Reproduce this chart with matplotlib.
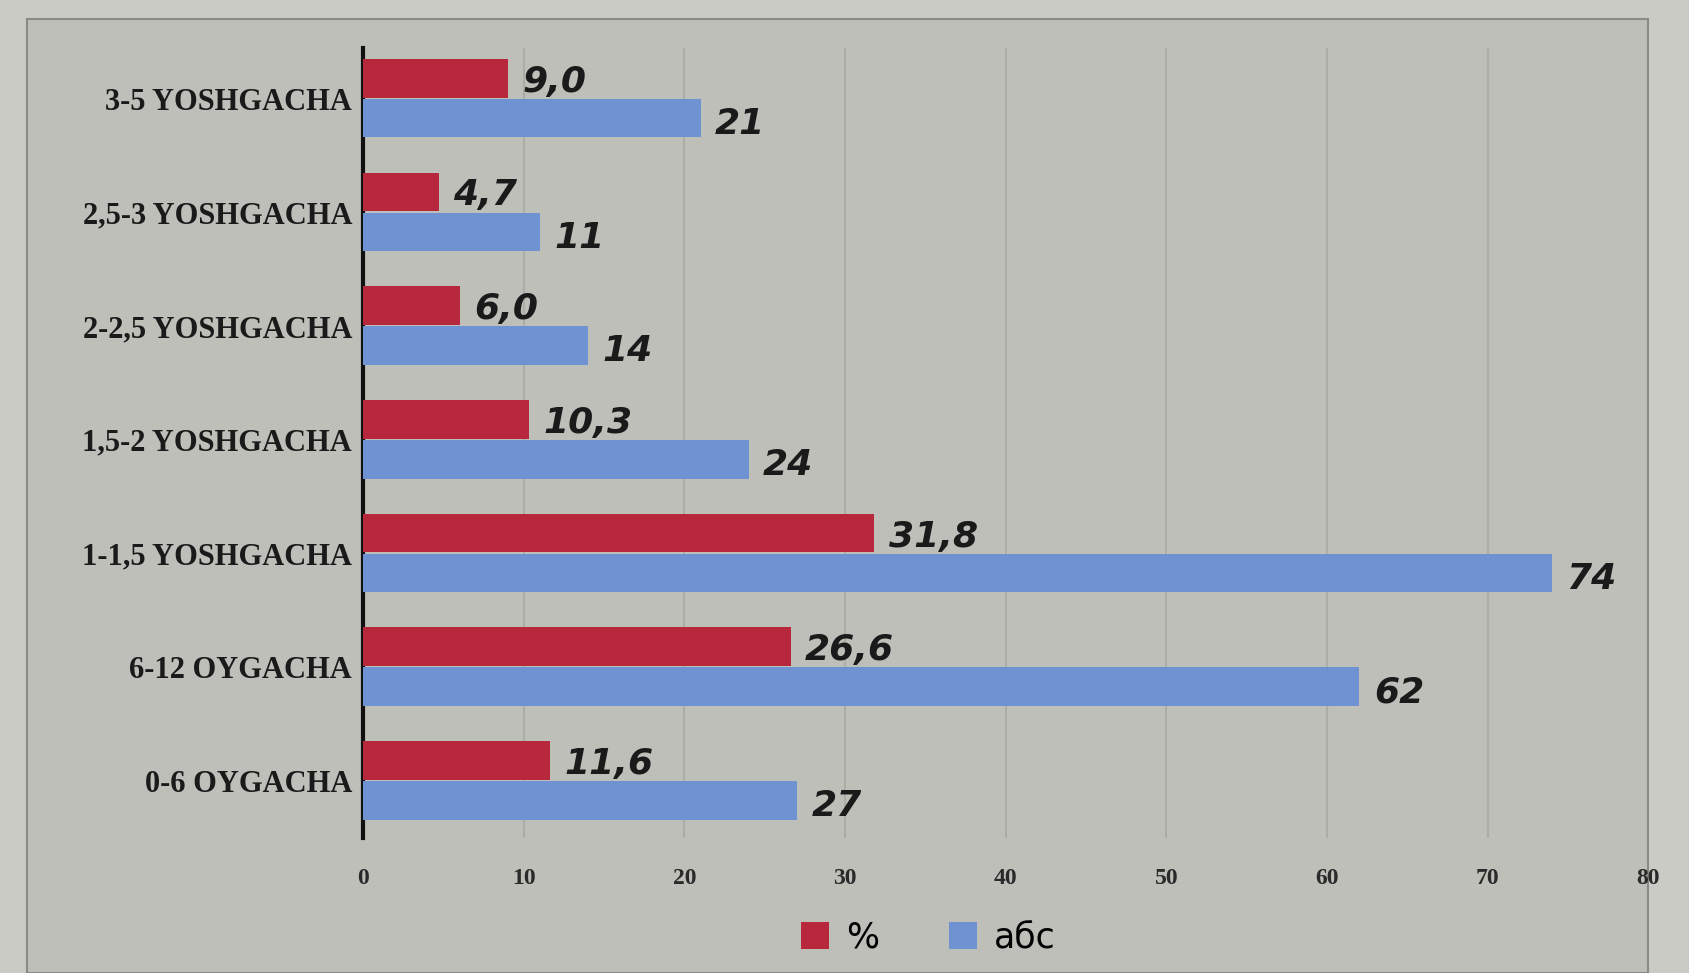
import matplotlib.pyplot as plt
from matplotlib.patches import Rectangle

# age groups, bottom to top
categories = ['0-6 OYGACHA', '6-12 OYGACHA', '1-1,5 YOSHGACHA', '1,5-2 YOSHGACHA',
              '2-2,5 YOSHGACHA', '2,5-3 YOSHGACHA', '3-5 YOSHGACHA']
percent = [11.6, 26.6, 31.8, 10.3, 6.0, 4.7, 9.0]
absolute = [27, 62, 74, 24, 14, 11, 21]
xticks = [0, 10, 20, 30, 40, 50, 60, 70, 80]

red = '#b8283c'
blue = '#6f93d2'

fig = plt.figure(figsize=(16.89, 9.73), dpi=100, facecolor='#cbcbc6')
# gray chart panel behind the plot
fig.patches.append(Rectangle((0.016, 0.0), 0.96, 0.98, transform=fig.transFigure,
                             facecolor='#bebfb9', edgecolor='#8a8a86', linewidth=1.5,
                             zorder=-10))

ax = fig.add_axes([0.215, 0.139, 0.761, 0.812])
ax.set_facecolor('none')

y = list(range(len(categories)))
h = 0.34
ax.barh([v + 0.18 for v in y], percent, height=h, color=red, label='%', zorder=3)
ax.barh([v - 0.17 for v in y], absolute, height=h, color=blue, label='абс', zorder=3)

# value labels
for i in y:
    ax.text(percent[i] + 0.9, i + 0.15, f'{percent[i]:.1f}'.replace('.', ','),
            fontsize=26, fontweight='bold', fontstyle='italic', color='#1a1a1a',
            va='center', ha='left', zorder=4)
    ax.text(absolute[i] + 0.9, i - 0.22, str(absolute[i]),
            fontsize=26, fontweight='bold', fontstyle='italic', color='#1a1a1a',
            va='center', ha='left', zorder=4)

ax.set_xlim(0, 80)
ax.set_ylim(-0.5, 6.45)
ax.set_yticks(y)
ax.set_yticklabels(categories, fontfamily='Liberation Serif', fontweight='bold',
                   fontsize=22, color='#1a1a1a')
ax.set_xticks(xticks)
ax.set_xticklabels([str(t) for t in xticks], fontfamily='Liberation Serif',
                   fontweight='bold', fontsize=17, color='#2a2a2a')
ax.tick_params(axis='y', length=0, pad=8)
ax.tick_params(axis='x', length=0, pad=22)

for s in ['top', 'right', 'bottom']:
    ax.spines[s].set_visible(False)
ax.spines['left'].set_linewidth(3)
ax.spines['left'].set_color('#111111')

ax.xaxis.grid(True, color='#8c8c88', linewidth=1.5, alpha=0.35, zorder=0)
ax.set_axisbelow(True)

ax.legend(loc='upper center', bbox_to_anchor=(0.44, -0.065), ncol=2, frameon=False,
          fontsize=25, handlelength=0.8, handleheight=0.8, columnspacing=2.0,
          handletextpad=0.5)

fig.savefig('out.png', dpi=100, facecolor=fig.get_facecolor())
